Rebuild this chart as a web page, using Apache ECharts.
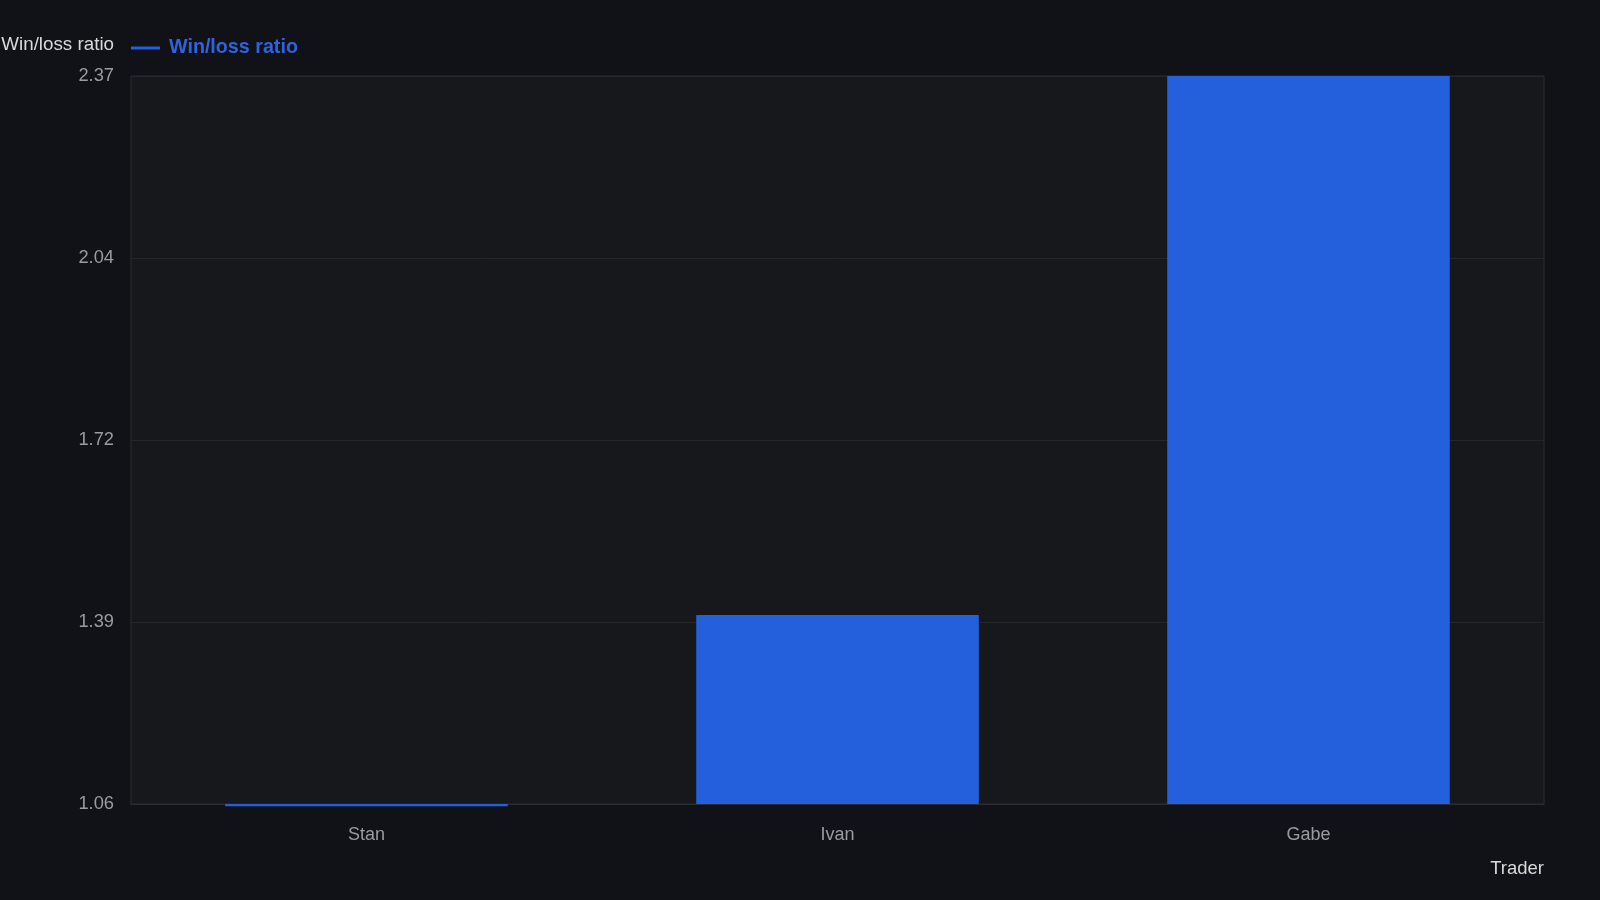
<!DOCTYPE html>
<html>
<head>
<meta charset="utf-8">
<script src="https://cdn.jsdelivr.net/npm/echarts@6/dist/echarts.min.js"></script>
<style>
html,body{margin:0;padding:0;background:#111217;}
#chart{width:1600px;height:900px;}
</style>
</head>
<body>
<div id="chart"></div>
<script>
const categories = ['Stan', 'Ivan', 'Gabe'];
const winLossRatio = [1.056, 1.40, 2.37];
const yMin = 1.06;
const yMax = 2.37;
const yTicks = ['1.06', '1.39', '1.72', '2.04', '2.37'];

const chart = echarts.init(document.getElementById('chart'));
const font = '"Liberation Sans", Arial, sans-serif';
chart.setOption({
  backgroundColor: '#111217',
  textStyle: { fontFamily: font },
  animation: false,
  legend: {
    left: 126, top: 33,
    icon: 'rect', itemWidth: 29, itemHeight: 3, itemGap: 10,
    textStyle: { color: '#2f63dd', fontSize: 19.7, fontWeight: 'bold', fontFamily: font, padding: [0, 0, 0, 4] },
    data: ['Win/loss ratio']
  },
  grid: {
    left: 131, right: 56, top: 76, bottom: 96,
    outerBoundsMode: 'none',
    containLabel: false,
    show: true, backgroundColor: '#17181c', borderColor: '#2b2c31', borderWidth: 1
  },
  xAxis: {
    type: 'category',
    data: categories,
    name: 'Trader',
    nameLocation: 'end',
    nameGap: 0,
    nameTextStyle: { color: '#d8d9da', fontSize: 18.5, align: 'right', verticalAlign: 'top', padding: [55, 0, 0, 0] },
    axisLine: { show: true, lineStyle: { color: '#2b2c31' } },
    axisTick: { show: false },
    axisLabel: { color: '#9a9ba1', fontSize: 18, margin: 22 }
  },
  yAxis: {
    type: 'value',
    min: yMin, max: yMax,
    startValue: yMin,
    interval: (yMax - yMin) / 4,
    name: 'Win/loss ratio',
    nameLocation: 'end',
    nameGap: 22,
    nameTextStyle: { color: '#d8d9da', fontSize: 18.8, align: 'right', padding: [0, 17, 0, 0] },
    axisLine: { show: false },
    axisTick: { show: false },
    splitLine: { lineStyle: { color: '#25262b' } },
    axisLabel: {
      color: '#9a9ba1', fontSize: 18.3, margin: 17, padding: [8, 0, 0, 0],
      formatter: (v, i) => yTicks[i] !== undefined ? yTicks[i] : v.toFixed(2)
    }
  },
  series: [{
    name: 'Win/loss ratio',
    type: 'bar',
    data: winLossRatio,
    barWidth: '60%',
    clip: false,
    itemStyle: { color: '#245fdc' }
  }]
});
</script>
</body>
</html>
